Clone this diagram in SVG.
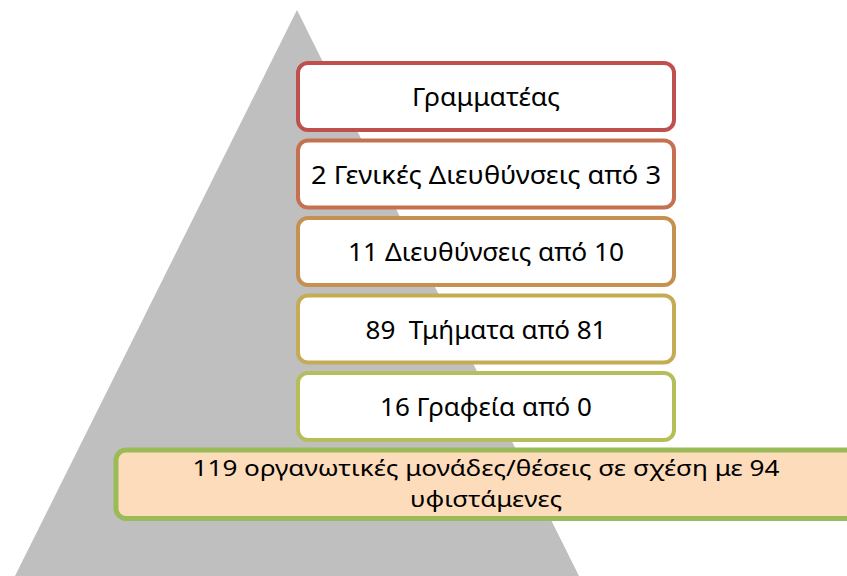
<svg xmlns="http://www.w3.org/2000/svg" width="847" height="576" viewBox="0 0 847 576">
<style>
.box{stroke-width:4;}
.t{font-family:"Noto Sans","DejaVu Sans",sans-serif;font-size:25px;fill:#000;text-anchor:middle;white-space:pre;}
.s{font-size:22px;}
</style>
<rect width="847" height="576" fill="#fff"/>
<polygon id="pyramid" points="297,10 580,578 14,578" fill="#BFBFBF"/>
<g id="n1"><rect class="box" x="298" y="63" width="376" height="67" rx="10" fill="#fff" stroke="#C0504D"/><text class="t" x="486" y="106" textLength="148" lengthAdjust="spacingAndGlyphs">Γραμματέας</text></g>
<g id="n2"><rect class="box" x="298" y="140.5" width="376" height="67" rx="10" fill="#fff" stroke="#C5714F"/><text class="t" x="486" y="184" textLength="350" lengthAdjust="spacingAndGlyphs">2 Γενικές Διευθύνσεις από 3</text></g>
<g id="n3"><rect class="box" x="298" y="218" width="376" height="67" rx="10" fill="#fff" stroke="#C59050"/><text class="t" x="486" y="261" textLength="276" lengthAdjust="spacingAndGlyphs">11 Διευθύνσεις από 10</text></g>
<g id="n4"><rect class="box" x="298" y="295.5" width="376" height="67" rx="10" fill="#fff" stroke="#C4AC55"/><text class="t" x="486" y="339" textLength="241" lengthAdjust="spacingAndGlyphs" xml:space="preserve">89  Τμήματα από 81</text></g>
<g id="n5"><rect class="box" x="298" y="373" width="376" height="67" rx="10" fill="#fff" stroke="#B6BE5A"/><text class="t" x="486" y="416" textLength="212" lengthAdjust="spacingAndGlyphs">16 Γραφεία από 0</text></g>
<g id="n6"><rect x="116" y="450" width="800" height="68.5" rx="10" fill="#FDDCBB" stroke="#9BBB59" stroke-width="5"/><text class="t s" x="486" y="476" textLength="587" lengthAdjust="spacingAndGlyphs">119 οργανωτικές μονάδες/θέσεις σε σχέση με 94</text><text class="t s" x="486" y="507" textLength="152" lengthAdjust="spacingAndGlyphs">υφιστάμενες</text></g>
<g id="connectors"/>
</svg>
